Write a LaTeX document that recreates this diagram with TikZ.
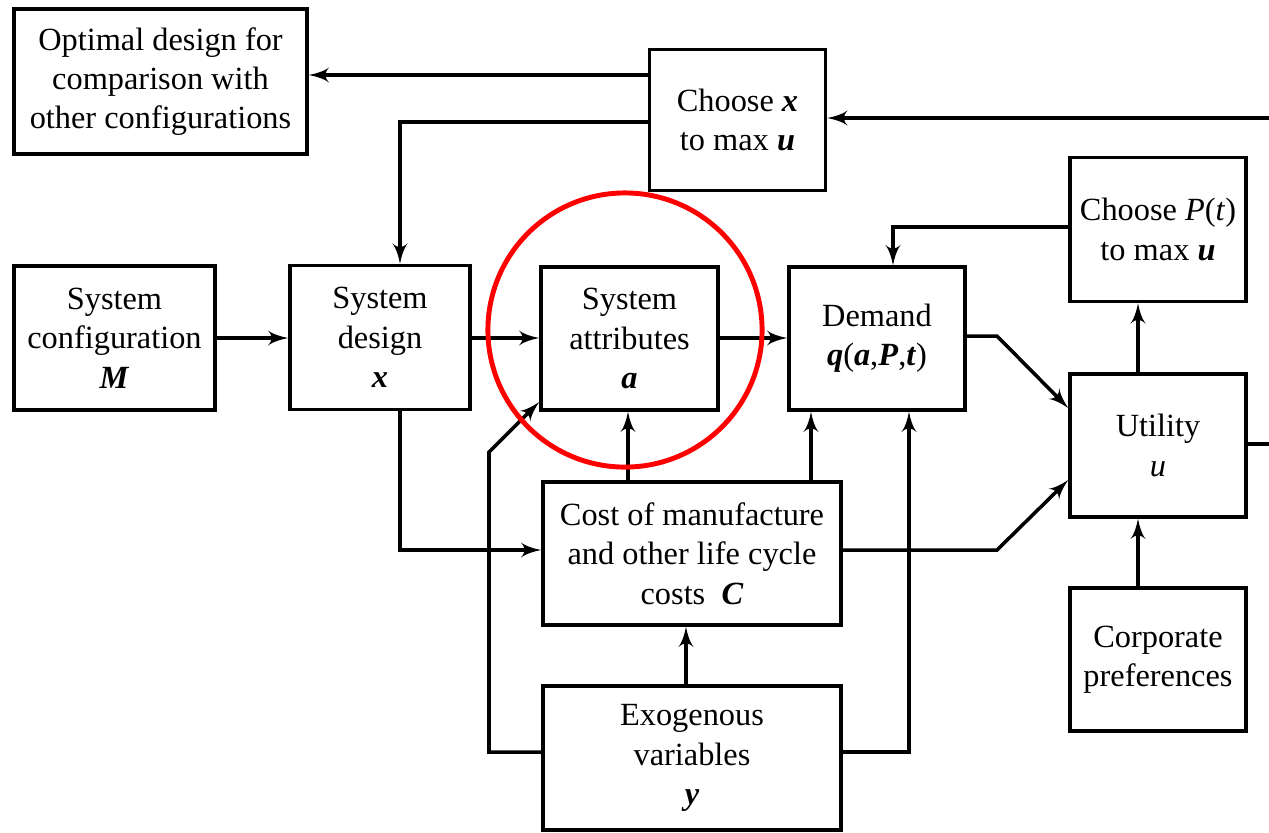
\documentclass[tikz,border=0pt]{standalone}
\usepackage{fontspec}
\setmainfont{Liberation Serif}
\usetikzlibrary{arrows}
\newcommand{\bv}[1]{\textbf{\textit{#1}}}

\begin{document}
\begin{tikzpicture}[x=0.01cm,y=-0.01cm]
\tikzset{block/.style = {shape=rectangle,draw,line width=1pt,align=center,inner sep=0pt,
  minimum width=1.76cm,minimum height=1.44cm,font=\fontsize{9.2}{11.2}\selectfont}}
\tikzset{wide/.style = {block,minimum width=2.98cm}}
\tikzset{edge/.style = {->,> = latex',line width=1pt}}
\useasboundingbox (0,0) rectangle (1269,832);
% blocks

\node[block,minimum width=2.93cm,minimum height=1.45cm] (opt) at (160.5,81.5) {Optimal design for\\comparison with\\other configurations};
\node[block,minimum height=1.41cm] (choosex) at (737.5,120) {Choose \bv{x}\\to max \bv{u}};
\node[block] (choosep) at (1158,229.5) {Choose \textit{P}(\textit{t})\\to max \bv{u}};
\node[block,minimum width=2.01cm] (config) at (114.5,338) {System\\configuration\\\bv{M}};
\node[block,minimum width=1.80cm] (design) at (380,337.5) {System\\design\\\bv{x}};
\node[block,minimum width=1.77cm,minimum height=1.43cm] (attr) at (629.5,338.5) {System\\attributes\\\bv{a}};
\node[block,minimum height=1.43cm] (demand) at (877,338.5) {Demand\\\bv{q}(\bv{a},\bv{P},\bv{t})};
\node[block,minimum height=1.43cm] (utility) at (1158,445.5) {Utility\\\textit{u}};
\node[wide,minimum height=1.43cm] (cost) at (692,553.5) {Cost of manufacture\\and other life cycle\\costs\enspace\bv{C}};
\node[block,minimum height=1.43cm] (corp) at (1158,659.5) {Corporate\\preferences};
\node[wide] (exo) at (692,758) {Exogenous\\variables\\\bv{y}};

% loop ends
\coordinate (loopin) at (1269,118);
\coordinate (loopout) at (1269,444);

% edges
\draw[edge] (choosex.west |- 0,75) -- (opt.east |- 0,75);
\draw[edge] (choosex.west |- 0,122) -| (design.north -| 400,0);
\draw[edge] (loopin) -- (choosex.east |- loopin);
\draw[line width=1pt] (utility.east |- loopout) -- (loopout);
\draw[edge] (choosep.west |- 0,227) -| (demand.north -| 893,0);
\draw[edge] (config.east |- 0,338) -- (design.west |- 0,338);
\draw[edge] (design.east |- 0,338) -- (attr.west |- 0,338);
\draw[edge] (attr.east |- 0,338) -- (demand.west |- 0,338);
\draw[edge] (demand.east |- 0,336) -- (997,336) -- (utility.west |- 0,408);
\draw[edge] (cost.east |- 0,550) -- (997,550) -- (utility.west |- 0,480);
\draw[edge] (utility.north -| 1138,0) -- (choosep.south -| 1138,0);
\draw[edge] (corp.north -| 1138,0) -- (utility.south -| 1138,0);
\draw[edge] (design.south -| 400,0) |- (cost.west |- 0,550);
\draw[edge] (cost.north -| 628,0) -- (attr.south -| 628,0);
\draw[edge] (cost.north -| 811,0) -- (demand.south -| 811,0);
\draw[edge] (exo.north -| 686,0) -- (cost.south -| 686,0);
\draw[edge] (exo.west |- 0,752) -| (489,452) -- (attr.west |- 0,402);
\draw[edge] (exo.east |- 0,752) -| (demand.south -| 909,0);

% highlight
\draw[red,line width=1.4pt] (625,330) circle (1.37cm);

\end{tikzpicture}
\end{document}
